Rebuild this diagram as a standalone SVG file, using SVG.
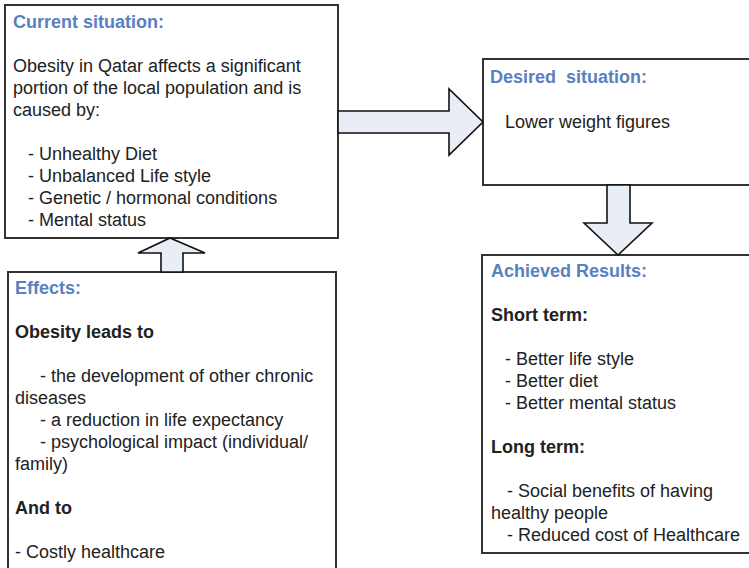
<svg xmlns="http://www.w3.org/2000/svg" width="749" height="568" viewBox="0 0 749 568">
  <style>
    .box { fill: #ffffff; stroke: #333333; stroke-width: 2; }
    .arrow { fill: #e9eef6; stroke: #111111; stroke-width: 1.6; stroke-linejoin: miter; }
    text { font-family: "Liberation Sans", Arial, sans-serif; font-size: 18px; fill: #222222; }
    .head { font-weight: bold; fill: #5a80c0; }
    .bold { font-weight: bold; }
  </style>
  <rect width="749" height="568" fill="#ffffff"/>

  <g id="current-situation">
    <rect class="box" x="5" y="5" width="333" height="233"/>
    <text class="head" x="13" y="28">Current situation:</text>
    <text x="13" y="72">Obesity in Qatar affects a significant</text>
    <text x="13" y="94">portion of the local population and is</text>
    <text x="13" y="116">caused by:</text>
    <text x="28" y="160">- Unhealthy Diet</text>
    <text x="28" y="182">- Unbalanced Life style</text>
    <text x="28" y="204">- Genetic / hormonal conditions</text>
    <text x="28" y="226">- Mental status</text>
  </g>

  <g id="desired-situation">
    <rect class="box" x="483" y="59" width="280" height="126"/>
    <text class="head" x="490" y="83" xml:space="preserve">Desired  situation:</text>
    <text x="505" y="128">Lower weight figures</text>
  </g>

  <g id="effects">
    <rect class="box" x="8" y="272" width="328" height="310"/>
    <text class="head" x="15" y="294">Effects:</text>
    <text class="bold" x="15" y="338">Obesity leads to</text>
    <text x="40" y="382">- the development of other chronic</text>
    <text x="15" y="404">diseases</text>
    <text x="40" y="426">- a reduction in life expectancy</text>
    <text x="40" y="448">- psychological impact (individual/</text>
    <text x="15" y="470">family)</text>
    <text class="bold" x="15" y="514">And to</text>
    <text x="15" y="558">- Costly healthcare</text>
  </g>

  <g id="achieved-results">
    <rect class="box" x="482" y="255" width="280" height="298"/>
    <text class="head" x="491" y="277">Achieved Results:</text>
    <text class="bold" x="491" y="321">Short term:</text>
    <text x="505" y="365">- Better life style</text>
    <text x="505" y="387">- Better diet</text>
    <text x="505" y="409">- Better mental status</text>
    <text class="bold" x="491" y="453">Long term:</text>
    <text x="507" y="497">- Social benefits of having</text>
    <text x="491" y="519">healthy people</text>
    <text x="507" y="541">- Reduced cost of Healthcare</text>
  </g>

  <g id="connectors">
    <!-- current situation -> desired situation -->
    <polygon class="arrow" points="338,111 449,111 449,89 483,122 449,155 449,133 338,133"/>
    <!-- desired situation -> achieved results -->
    <polygon class="arrow" points="607,185 630,185 630,223 652,223 618,255 584,223 607,223"/>
    <!-- effects -> current situation -->
    <polygon class="arrow" points="161,272 161,253 138,253 170,238 205,253 183,253 183,272"/>
  </g>
</svg>
